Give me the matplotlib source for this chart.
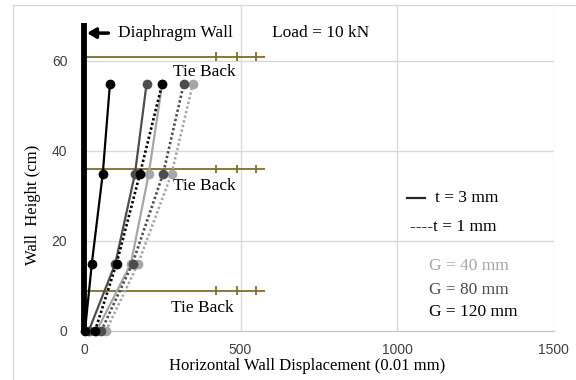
import matplotlib
matplotlib.use("Agg")
import matplotlib.pyplot as plt
from matplotlib.lines import Line2D

# ---- data ----
heights = [0, 15, 35, 55]
t3_g40 = [40, 150, 207, 250]
t3_g80 = [15, 100, 163, 200]
t3_g120 = [3, 25, 60, 83]
t1_g40 = [70, 173, 280, 348]
t1_g80 = [55, 155, 253, 319]
t1_g120 = [35, 104, 179, 250]

tie_heights = [61, 36, 9]
tie_length = 577
tie_marks = [423, 490, 551]
wall_top = 68.5

x_ticks = [0, 500, 1000, 1500]
y_ticks = [0, 20, 40, 60]

LIGHT = "#a6a6a6"
DARK = "#4d4d4d"
BLACK = "#000000"
OLIVE = "#7f6e28"
SERIF = "Liberation Serif"

fig = plt.figure(figsize=(5.76, 3.8), dpi=100)
ax = fig.add_axes([84 / 576, 1 - 331 / 380, (553.5 - 84) / 576, 326 / 380])
ax.set_xlim(0, 1500)
ax.set_ylim(0, 326 / 4.5)

# grid
for xv in x_ticks[1:]:
    ax.axvline(xv, color="#d9d9d9", lw=1, zorder=0)
for yv in y_ticks[1:]:
    ax.axhline(yv, color="#d9d9d9", lw=1, zorder=0)

for s in ["top", "right", "left"]:
    ax.spines[s].set_visible(False)
ax.spines["bottom"].set_color("#bfbfbf")
ax.set_xticks(x_ticks)
ax.set_yticks(y_ticks)
ax.tick_params(length=0, labelsize=10, colors="#404040", pad=12)
for lab in ax.get_xticklabels() + ax.get_yticklabels():
    lab.set_fontfamily("Liberation Sans")
ax.tick_params(axis="x", pad=9)

# tie backs
for h in tie_heights:
    ax.hlines(h, 0, tie_length, color=OLIVE, lw=1.3, zorder=2)
    ax.vlines(tie_marks, h - 0.9, h + 0.9, color=OLIVE, lw=1.3, zorder=2)

# wall
ax.plot([0, 0], [0, wall_top], color=BLACK, lw=4.2, solid_capstyle="butt", zorder=6, clip_on=False)

# series
ms = 7
dot = (0, (0.9, 0.9))
series = [
    (t1_g40, LIGHT, dot),
    (t3_g40, LIGHT, "-"),
    (t1_g80, DARK, dot),
    (t3_g80, DARK, "-"),
    (t1_g120, BLACK, dot),
    (t3_g120, BLACK, "-"),
]
for xs, c, ls in series:
    lw = 1.9 if ls is dot else 1.6
    ax.plot(xs, heights, color=c, ls=ls, lw=lw, marker="o", ms=ms,
            markeredgewidth=0, zorder=4, clip_on=False)

# annotations
fs = 12.5
ax.annotate("", xy=(10, 66.2), xytext=(78, 66.2),
            arrowprops=dict(arrowstyle="-|>,head_length=0.5,head_width=0.3",
                            color=BLACK, lw=2.5, shrinkA=0, shrinkB=0), zorder=7)
ax.text(108, 66.2, "Diaphragm Wall", family=SERIF, fontsize=fs, va="center", ha="left")
ax.text(600, 66.2, "Load = 10 kN", family=SERIF, fontsize=fs, va="center", ha="left")
ax.text(284, 57.6, "Tie Back", family=SERIF, fontsize=fs, va="center", ha="left")
ax.text(284, 32.2, "Tie Back", family=SERIF, fontsize=fs, va="center", ha="left")
ax.text(277, 5.0, "Tie Back", family=SERIF, fontsize=fs, va="center", ha="left")

# legend-like annotation
ax.add_line(Line2D([1033, 1088], [29.6, 29.6], color="#262626", lw=1.6))
ax.text(1122, 29.6, "t = 3 mm", family=SERIF, fontsize=fs, va="center", ha="left")
ax.text(1040, 23.2, "----t = 1 mm", family=SERIF, fontsize=fs, va="center", ha="left")
ax.text(1103, 14.4, "G = 40 mm", family=SERIF, fontsize=fs, va="center", ha="left", color=LIGHT)
ax.text(1103, 9.1, "G = 80 mm", family=SERIF, fontsize=fs, va="center", ha="left", color=DARK)
ax.text(1103, 4.2, "G = 120 mm", family=SERIF, fontsize=fs, va="center", ha="left", color=BLACK)

# axis labels
fig.text(307 / 576, 1 - 366 / 380, "Horizontal Wall Displacement (0.01 mm)",
         family=SERIF, fontsize=12, ha="center", va="center")
fig.text(33 / 576, 1 - 205 / 380, "Wall  Height (cm)", family=SERIF, fontsize=12,
         ha="center", va="center", rotation=90)

# chart border
fig.add_artist(Line2D([13 / 576, 13 / 576], [0, 1 - 5 / 380], color="#d9d9d9", lw=1))
fig.add_artist(Line2D([13 / 576, 1], [1 - 5 / 380, 1 - 5 / 380], color="#d9d9d9", lw=1))

fig.savefig("out.png", dpi=100)
